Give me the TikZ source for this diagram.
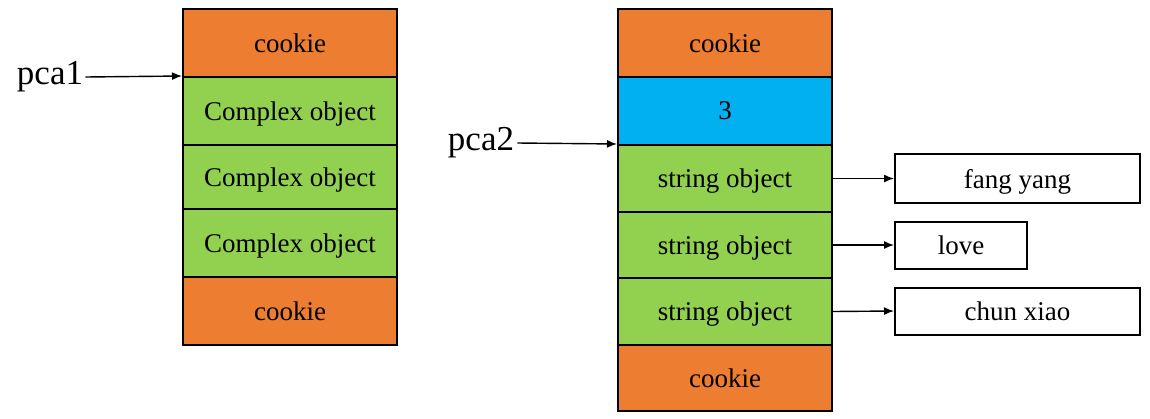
\documentclass[tikz,border=0pt]{standalone}
\usepackage{fontspec}
\setmainfont{Liberation Serif}
\usetikzlibrary{arrows.meta}
\definecolor{cookieor}{HTML}{ED7D31}
\definecolor{objgreen}{HTML}{92D050}
\definecolor{cntblue}{HTML}{00B0F0}
\tikzset{
  cell/.style={draw=black, line width=1pt, rectangle, minimum width=107pt, inner sep=0pt, text depth=0pt, font=\fontsize{13.5}{16}\selectfont},
  ck/.style={cell, fill=cookieor},
  obj/.style={cell, fill=objgreen},
  cnt/.style={cell, fill=cntblue},
  strbox/.style={draw=black, line width=1pt, rectangle, fill=white, inner sep=0pt, text depth=0pt, font=\fontsize{13.5}{16}\selectfont},
  ptrlabel/.style={inner sep=0pt, font=\fontsize{17.5}{20}\selectfont},
  arr/.style={line width=0.7pt, -{Latex[length=5pt,width=4pt]}}
}
\begin{document}
\begin{tikzpicture}[x=0.5pt,y=-0.5pt]
\useasboundingbox (0,0) rectangle (1150,418);
% left stack
\node[ck,  minimum height=34pt] (lc1) at (290,43)  {cookie};
\node[obj, minimum height=34pt] (l1)  at (290,111) {Complex object};
\node[obj, minimum height=32pt] (l2)  at (290,177) {Complex object};
\node[obj, minimum height=34pt] (l3)  at (290,243) {Complex object};
\node[ck,  minimum height=34pt] (lc2) at (290,311) {cookie};
% right stack
\node[ck,  minimum height=34pt]   (rc1) at (725,43)    {cookie};
\node[cnt, minimum height=34pt]   (n3)  at (725,111)   {3};
\node[obj, minimum height=33.5pt] (s1)  at (725,178.5) {string object};
\node[obj, minimum height=33pt]   (s2)  at (725,245)   {string object};
\node[obj, minimum height=33.5pt] (s3)  at (725,311.5) {string object};
\node[ck,  minimum height=33pt]   (rc2) at (725,378)   {cookie};
% strings
\node[strbox, minimum width=122.5pt, minimum height=24.5pt] (fy) at (1017.5,178.5) {fang yang};
\node[strbox, minimum width=66pt,    minimum height=23.5pt] (lv) at (961,245)      {love};
\node[strbox, minimum width=122.5pt, minimum height=23.5pt] (cx) at (1017.5,311)   {chun xiao};
% pointers
\node[ptrlabel] (p1) at (50,77)  {pca1};
\node[ptrlabel] (p2) at (481,143) {pca2};
\draw[arr] (p1.east) ++(2,0) -- (l1.north west);
\draw[arr] (p2.east) ++(3,0) -- (s1.north west);
% connectors
\draw[arr] (s1.east) -- (fy.west);
\draw[arr] (s2.east) -- (lv.west);
\draw[arr] (s3.east) -- (cx.west);
\end{tikzpicture}
\end{document}
